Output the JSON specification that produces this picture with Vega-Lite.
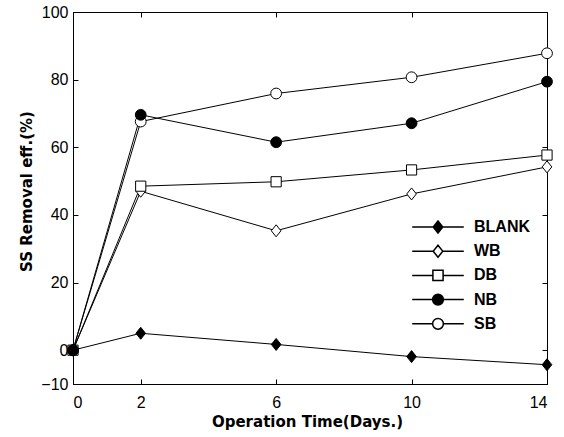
{
  "$schema": "https://vega.github.io/schema/vega-lite/v6.json",
  "autosize": "none",
  "width": 474,
  "height": 372,
  "padding": {"left": 73, "top": 12, "right": 17, "bottom": 53},
  "background": "white",
  "config": {
    "view": {"stroke": "black", "strokeWidth": 1},
    "axis": {"grid": false, "domainColor": "black", "tickColor": "black", "labelColor": "black", "titleColor": "black", "labelFont": "Liberation Sans", "labelFontSize": 16, "titleFont": "DejaVu Sans", "titleFontSize": 15, "titleFontWeight": "bold", "tickSize": -5, "domainWidth": 1, "tickWidth": 1}
  },
  "data": {"values": [
    {"day": 0, "series": "BLANK", "value": 0},
    {"day": 2, "series": "BLANK", "value": 5.0},
    {"day": 6, "series": "BLANK", "value": 1.7},
    {"day": 10, "series": "BLANK", "value": -1.9},
    {"day": 14, "series": "BLANK", "value": -4.3},
    {"day": 0, "series": "WB", "value": 0},
    {"day": 2, "series": "WB", "value": 47.0},
    {"day": 6, "series": "WB", "value": 35.3},
    {"day": 10, "series": "WB", "value": 46.2},
    {"day": 14, "series": "WB", "value": 54.2},
    {"day": 0, "series": "DB", "value": 0},
    {"day": 2, "series": "DB", "value": 48.5},
    {"day": 6, "series": "DB", "value": 49.8},
    {"day": 10, "series": "DB", "value": 53.3},
    {"day": 14, "series": "DB", "value": 57.7},
    {"day": 0, "series": "SB", "value": 0},
    {"day": 2, "series": "SB", "value": 67.6},
    {"day": 6, "series": "SB", "value": 75.9},
    {"day": 10, "series": "SB", "value": 80.7},
    {"day": 14, "series": "SB", "value": 87.8},
    {"day": 0, "series": "NB", "value": 0},
    {"day": 2, "series": "NB", "value": 69.6},
    {"day": 6, "series": "NB", "value": 61.5},
    {"day": 10, "series": "NB", "value": 67.1},
    {"day": 14, "series": "NB", "value": 79.4}
  ]},
  "layer": [
    {
      "mark": {"type": "line", "color": "black", "strokeWidth": 1, "clip": false},
      "encoding": {
        "x": {"field": "day", "type": "quantitative", "scale": {"domain": [0, 14], "nice": false, "zero": false},
              "axis": {"values": [0, 2, 6, 10, 14], "title": "Operation Time(Days.)", "labelPadding": 15, "titleBaseline": "top", "titleY": 30, "titleX": 234}},
        "y": {"field": "value", "type": "quantitative", "scale": {"domain": [-10, 100], "nice": false, "zero": false},
              "axis": {"values": [-10, 0, 20, 40, 60, 80, 100], "labelOverlap": false, "title": "SS Removal eff.(%)", "labelPadding": 10, "titleAngle": -90, "titleAlign": "center", "titleBaseline": "middle", "titleX": -47, "titleY": 179}},
        "detail": {"field": "series"}
      }
    },
    {
      "mark": {"type": "line", "opacity": 0},
      "encoding": {
        "x": {"field": "day", "type": "quantitative", "axis": {"orient": "top", "values": [0, 2, 6, 10, 14], "labels": false, "title": null, "domain": false}},
        "y": {"field": "value", "type": "quantitative", "axis": {"orient": "right", "values": [-10, 0, 20, 40, 60, 80, 100], "labels": false, "title": null, "domain": false}},
        "detail": {"field": "series"}
      }
    },
    {
      "mark": {"type": "point", "filled": true, "stroke": "black", "strokeWidth": 1, "size": 144, "opacity": 1, "clip": false},
      "encoding": {
        "x": {"field": "day", "type": "quantitative", "axis": null},
        "y": {"field": "value", "type": "quantitative", "axis": null},
        "shape": {"field": "series", "type": "nominal",
          "scale": {"domain": ["BLANK", "WB", "DB", "NB", "SB"],
                    "range": ["M0,-1L0.8,0L0,1L-0.8,0Z", "M0,-1L0.8,0L0,1L-0.8,0Z", "M-0.85,-0.85H0.85V0.85H-0.85Z", "M0.9,0A0.9,0.9,0,1,1,-0.9,0A0.9,0.9,0,1,1,0.9,0Z", "M0.9,0A0.9,0.9,0,1,1,-0.9,0A0.9,0.9,0,1,1,0.9,0Z"]},
          "legend": null},
        "fill": {"field": "series", "type": "nominal",
          "scale": {"domain": ["BLANK", "WB", "DB", "NB", "SB"], "range": ["black", "white", "white", "black", "white"]},
          "legend": null}
      }
    },
    {
      "transform": [{"filter": "false"}],
      "mark": {"type": "point", "filled": true, "stroke": "black", "strokeWidth": 1, "size": 144, "opacity": 1, "clip": false},
      "encoding": {
        "x": {"field": "day", "type": "quantitative", "axis": null},
        "y": {"field": "value", "type": "quantitative", "axis": null},
        "shape": {"field": "series", "type": "nominal",
          "scale": {"domain": ["BLANK", "WB", "DB", "NB", "SB"],
                    "range": ["M-4.3,0H-0.8M0.8,0H4.3M0,-1L0.8,0L0,1L-0.8,0Z", "M-4.3,0H-0.8M0.8,0H4.3M0,-1L0.8,0L0,1L-0.8,0Z", "M-4.3,0H-0.85M0.85,0H4.3M-0.85,-0.85H0.85V0.85H-0.85Z", "M-4.3,0H-0.9M0.9,0H4.3M0.9,0A0.9,0.9,0,1,1,-0.9,0A0.9,0.9,0,1,1,0.9,0Z", "M-4.3,0H-0.9M0.9,0H4.3M0.9,0A0.9,0.9,0,1,1,-0.9,0A0.9,0.9,0,1,1,0.9,0Z"]},
          "legend": {"title": null, "orient": "none", "legendX": 357, "legendY": 207, "padding": 0, "symbolSize": 144, "labelOffset": 28, "rowPadding": 6.2, "labelFont": "Liberation Sans", "labelFontSize": 16, "labelFontWeight": "bold", "labelColor": "black",
            "encode": {"symbols": {"stroke": {"value": "black"}, "strokeWidth": {"value": 1}, "opacity": {"value": 1}}}}},
        "fill": {"field": "series", "type": "nominal",
          "scale": {"domain": ["BLANK", "WB", "DB", "NB", "SB"], "range": ["black", "white", "white", "black", "white"]},
          "legend": {"title": null, "orient": "none", "legendX": 357, "legendY": 207, "padding": 0, "symbolSize": 144, "labelOffset": 28, "rowPadding": 6.2, "labelFont": "Liberation Sans", "labelFontSize": 16, "labelFontWeight": "bold", "labelColor": "black",
            "encode": {"symbols": {"stroke": {"value": "black"}, "strokeWidth": {"value": 1}, "opacity": {"value": 1}}}}}
      }
    }
  ],
  "resolve": {"axis": {"x": "independent", "y": "independent"}, "scale": {"shape": "independent", "fill": "independent"}}
}
